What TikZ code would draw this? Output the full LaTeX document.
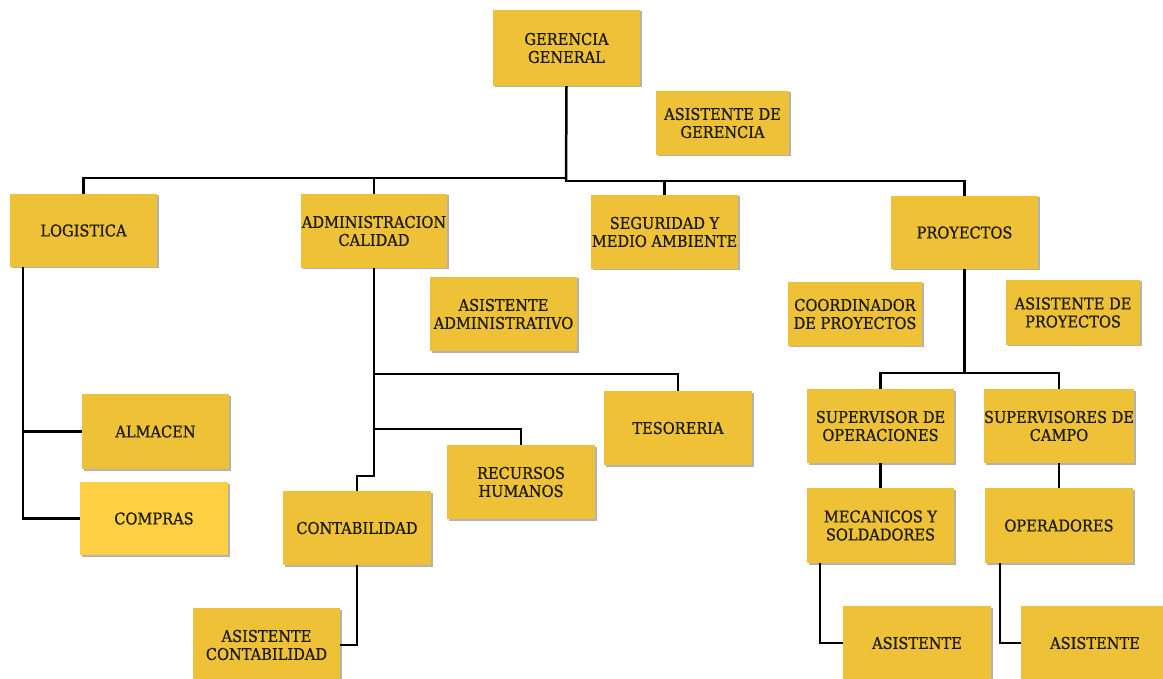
\documentclass[tikz,border=0pt]{standalone}
\usepackage{fontspec}
\setmainfont{DejaVu Serif}[FakeStretch=0.92]
\newfontfamily\boxfont{DejaVu Serif}[FakeStretch=0.9,FakeBold=0.8]
\usetikzlibrary{shadows,calc}
\definecolor{boxfill}{HTML}{EEC136}
\definecolor{boxlight}{HTML}{FFD043}
\definecolor{txt}{HTML}{1A1A10}
\tikzset{
  orgbox/.style={draw=none, fill=boxfill, text=txt, align=center,
    font=\boxfont\fontsize{16.2}{18}\selectfont, inner sep=0pt,
    drop shadow={shadow xshift=1.5pt, shadow yshift=-1.5pt, opacity=0.3, fill=black}},
  conn/.style={line width=2.5pt, draw=black, line join=miter}
}
\begin{document}
\begin{tikzpicture}[x=1pt,y=-1pt]
\useasboundingbox (0,0) rectangle (1163,679);
\clip (0,0) rectangle (1163,679);
\fill[white] (0,0) rectangle (1163,679);
% nodes
\node[orgbox, minimum width=147, minimum height=76] (gg) at (566.5,48) {GERENCIA\\GENERAL};
\node[orgbox, minimum width=133, minimum height=64] (ag) at (722.5,123) {ASISTENTE DE\\GERENCIA};
\node[orgbox, minimum width=147, minimum height=73] (log) at (83.5,230.5) {LOGISTICA};
\node[orgbox, minimum width=146, minimum height=74] (adm) at (374,231) {ADMINISTRACION\\CALIDAD};
\node[orgbox, minimum width=147, minimum height=74] (seg) at (664.5,232) {SEGURIDAD Y\\MEDIO AMBIENTE};
\node[orgbox, minimum width=147, minimum height=73] (proy) at (964.5,232.5) {PROYECTOS};
\node[orgbox, minimum width=147, minimum height=74] (aadm) at (503.5,314) {ASISTENTE\\ADMINISTRATIVO};
\node[orgbox, minimum width=134, minimum height=64] (coord) at (855,314) {COORDINADOR\\DE PROYECTOS};
\node[orgbox, minimum width=134, minimum height=65] (aproy) at (1073,312.5) {ASISTENTE DE\\PROYECTOS};
\node[orgbox, minimum width=147, minimum height=75] (alm) at (155.5,431.5) {ALMACEN};
\node[orgbox, fill=boxlight, drop shadow={opacity=0}, minimum width=148, minimum height=73] (comp) at (154,518.5) {COMPRAS};
\node[orgbox, minimum width=148, minimum height=74] (tes) at (678,428) {TESORERIA};
\node[orgbox, minimum width=148, minimum height=74] (rrhh) at (521,482) {RECURSOS\\HUMANOS};
\node[orgbox, minimum width=148, minimum height=74] (cont) at (357,528) {CONTABILIDAD};
\node[orgbox, minimum width=147, minimum height=74] (acont) at (266.5,645) {ASISTENTE\\CONTABILIDAD};
\node[orgbox, minimum width=147, minimum height=74] (supop) at (880.5,426) {SUPERVISOR DE\\OPERACIONES};
\node[orgbox, minimum width=148, minimum height=74] (supc) at (1059,426) {SUPERVISORES DE\\CAMPO};
\node[orgbox, minimum width=147, minimum height=75] (mec) at (880.5,525.5) {MECANICOS Y\\SOLDADORES};
\node[orgbox, minimum width=148, minimum height=75] (oper) at (1059,525.5) {OPERADORES};
\node[orgbox, minimum width=148, minimum height=74] (as1) at (917,643) {ASISTENTE};
\node[orgbox, minimum width=148, minimum height=74] (as2) at (1095,643) {ASISTENTE};
% connectors
\coordinate (bL) at (566,178);
\coordinate (bR) at (566,181);
\draw[conn] (gg.south) -- (bR);
\draw[conn] (log.north) |- (bL) -- (bR) -| (proy.north);
\draw[conn] (adm.north) -- (adm.north |- bL);
\draw[conn] (seg.north) -- (seg.north |- bR);
% logistica
\coordinate (lgs) at ($(log.south west)+(13,0)$);
\draw[conn] (lgs) |- (alm.west);
\draw[conn] (lgs) |- (comp.west);
% administracion
\path (adm.south) ++(0,208) coordinate (aj);
\path (adm.south) ++(0,106) coordinate (t1);
\path (adm.south) ++(0,161) coordinate (t2);
\draw[conn] (adm.south) -- (aj) -| (cont.north);
\draw[conn] (t1) -| (tes.north);
\draw[conn] (t2) -| (rrhh.north);
\draw[conn] (cont.south) |- (acont.east);
% proyectos
\path (proy.south) ++(0,104) coordinate (pj);
\draw[conn] (proy.south) -- (pj);
\draw[conn] (supop.north) |- (pj) -| (supc.north);
\draw[conn] (supop.south) -- (mec.north);
\draw[conn] (supc.south) -- (oper.north);
\coordinate (ms) at ($(mec.south west)+(13,0)$);
\coordinate (os) at ($(oper.south west)+(15,0)$);
\draw[conn] (ms) |- (as1.west);
\draw[conn] (os) |- (as2.west);
\end{tikzpicture}
\end{document}
